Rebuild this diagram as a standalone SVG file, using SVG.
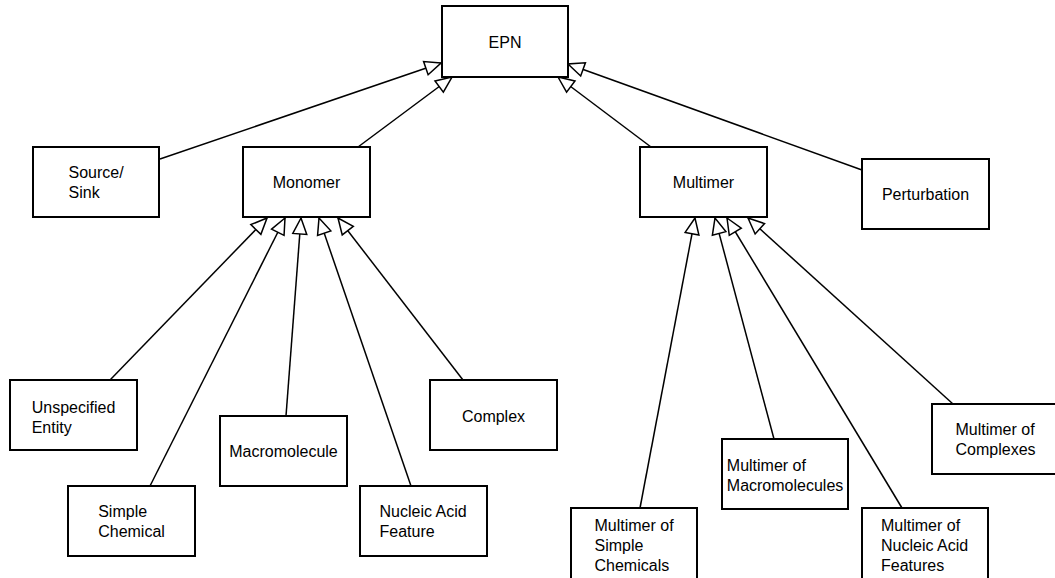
<svg xmlns="http://www.w3.org/2000/svg" width="1055" height="578" viewBox="0 0 1055 578">
<style>
.box{fill:#fff;stroke:#000;stroke-width:2}
.lbl{font-family:"Liberation Sans",Arial,sans-serif;font-size:16px;fill:#000}
.mid{text-anchor:middle}
.edge{fill:none;stroke:#000;stroke-width:1.5;marker-end:url(#tri)}
</style>
<defs>
<marker id="tri" viewBox="-18 -9 20 18" refX="0" refY="0" markerWidth="20" markerHeight="18" markerUnits="userSpaceOnUse" orient="auto" overflow="visible">
<path d="M0,0 L-16,-7 L-16,7 Z" fill="#fff" stroke="#000" stroke-width="1.5" stroke-linejoin="miter"/>
</marker>
</defs>
<rect width="1055" height="578" fill="#fff"/>
<g id="connectors">
<path class="edge" d="M160,159 L441,63"/>
<path class="edge" d="M358,147 L452,77"/>
<path class="edge" d="M651,147 L558,77"/>
<path class="edge" d="M862,170 L568,64"/>
<path class="edge" d="M110,380 L267,218"/>
<path class="edge" d="M150,486 L285,218"/>
<path class="edge" d="M286,416 L301,218"/>
<path class="edge" d="M411,486 L319,218"/>
<path class="edge" d="M463,380 L338,218"/>
<path class="edge" d="M640,508 L695,218"/>
<path class="edge" d="M774,439 L715,218"/>
<path class="edge" d="M902,508 L727,218"/>
<path class="edge" d="M953,404 L748,218"/>
</g>
<g id="epn"><rect class="box" x="442" y="6" width="126" height="71"/><text class="lbl mid" x="505" y="48">EPN</text></g>
<g id="source-sink"><rect class="box" x="33" y="147" width="126" height="70"/><text class="lbl" x="68.5" y="178">Source/</text><text class="lbl" x="68.5" y="198">Sink</text></g>
<g id="monomer"><rect class="box" x="243" y="147" width="127" height="70"/><text class="lbl mid" x="306.5" y="188">Monomer</text></g>
<g id="multimer"><rect class="box" x="640" y="147" width="127" height="70"/><text class="lbl mid" x="703.5" y="188">Multimer</text></g>
<g id="perturbation"><rect class="box" x="862" y="159" width="127" height="70"/><text class="lbl mid" x="925.5" y="200">Perturbation</text></g>
<g id="unspecified-entity"><rect class="box" x="10" y="380" width="127" height="70"/><text class="lbl" x="31.7" y="412.5">Unspecified</text><text class="lbl" x="31.7" y="432.5">Entity</text></g>
<g id="simple-chemical"><rect class="box" x="68" y="486" width="127" height="70"/><text class="lbl" x="98.2" y="517">Simple</text><text class="lbl" x="98.2" y="537">Chemical</text></g>
<g id="macromolecule"><rect class="box" x="220" y="416" width="127" height="70"/><text class="lbl mid" x="283.5" y="457">Macromolecule</text></g>
<g id="nucleic-acid-feature"><rect class="box" x="360" y="486" width="127" height="70"/><text class="lbl" x="379.5" y="517">Nucleic Acid</text><text class="lbl" x="379.5" y="537">Feature</text></g>
<g id="complex"><rect class="box" x="430" y="380" width="127" height="70"/><text class="lbl mid" x="493.5" y="421.5">Complex</text></g>
<g id="multimer-simple-chemicals"><rect class="box" x="571" y="508" width="126" height="80"/><text class="lbl" x="594.5" y="531">Multimer of</text><text class="lbl" x="594.5" y="551">Simple</text><text class="lbl" x="594.5" y="571">Chemicals</text></g>
<g id="multimer-macromolecules"><rect class="box" x="722" y="439" width="126" height="70"/><text class="lbl" x="726.8" y="470.5">Multimer of</text><text class="lbl" x="726.8" y="490.5">Macromolecules</text></g>
<g id="multimer-nucleic-acid-features"><rect class="box" x="862" y="508" width="126" height="80"/><text class="lbl" x="881" y="531">Multimer of</text><text class="lbl" x="881" y="551">Nucleic Acid</text><text class="lbl" x="881" y="571">Features</text></g>
<g id="multimer-complexes"><rect class="box" x="932" y="404" width="127" height="70"/><text class="lbl" x="955.5" y="435">Multimer of</text><text class="lbl" x="955.5" y="455">Complexes</text></g>
</svg>
